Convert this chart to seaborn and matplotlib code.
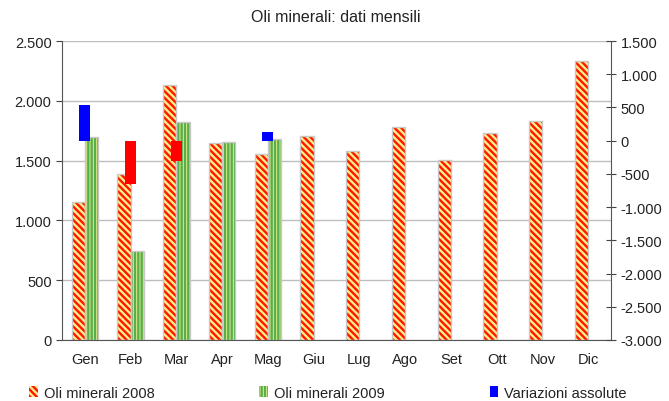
import seaborn as sns
import matplotlib.pyplot as plt
import matplotlib.ticker as mticker
from matplotlib.patches import Patch, Rectangle
import pandas as pd
import numpy as np

mesi = ['Gen', 'Feb', 'Mar', 'Apr', 'Mag', 'Giu', 'Lug', 'Ago', 'Set', 'Ott', 'Nov', 'Dic']
oli_2008 = [1155, 1390, 2130, 1650, 1555, 1705, 1580, 1780, 1505, 1730, 1835, 2335]
oli_2009 = [1695, 745, 1820, 1655, 1680]
variazioni = [540, -645, -310, 0, 125]

serie = ['Oli minerali 2008', 'Oli minerali 2009']

def fmt_it(v, pos=None):
    return f'{int(v):,}'.replace(',', '.')

sns.set_style('white')
plt.rcParams['font.family'] = ['Liberation Sans', 'DejaVu Sans']
plt.rcParams['hatch.linewidth'] = 1.7

# long table for the two series
df = pd.DataFrame({
    'mese': mesi * 2,
    'valore': oli_2008 + oli_2009 + [np.nan] * (12 - len(oli_2009)),
    'serie': [serie[0]] * 12 + [serie[1]] * 12,
})
var = pd.DataFrame({
    'mese': mesi,
    'var': variazioni + [np.nan] * (12 - len(variazioni)),
})
var['segno'] = np.where(var['var'] >= 0, 'pos', 'neg')

fig = plt.figure(figsize=(6.69, 4.02), dpi=100)
ax = fig.add_axes([62 / 669, 61 / 402, 549 / 669, 299 / 402])

sns.barplot(data=df, x='mese', y='valore', hue='serie', hue_order=serie, order=mesi,
            width=0.58, gap=0, palette=['#FFEE88', '#E4EE8C'], saturation=1, legend=False,
            ax=ax, linewidth=0)

stripe = {serie[0]: ('#FF1500', '\\' * 5), serie[1]: ('#58AD4C', '|' * 5)}
for cont, name in zip(ax.containers, serie):
    col, h = stripe[name]
    for p in cont.patches:
        if np.isnan(p.get_height()) or p.get_height() == 0:
            continue
        p.set_hatch(h)
        p.set_edgecolor(col)
        p.set_linewidth(0)
        ax.add_patch(Rectangle(p.get_xy(), p.get_width(), p.get_height(), fill=False,
                               edgecolor='#C8C8C8', lw=1.0, zorder=p.get_zorder() + 0.1))

ax.set_ylim(0, 2500)
ax.set_yticks(np.arange(0, 2501, 500))
ax.yaxis.set_major_formatter(mticker.FuncFormatter(fmt_it))
ax.yaxis.grid(True, color='#BEBEBE', lw=1)
ax.set_axisbelow(True)
ax.set_xlim(-0.5, 11.5)
ax.set_xlabel('')
ax.set_ylabel('')
ax.set_xticks(np.arange(-0.5, 12, 1), minor=True)
ax.tick_params(axis='x', which='major', length=0, labelsize=10.5, pad=9, colors='#222222')
ax.tick_params(axis='x', which='minor', length=4, direction='out', color='#444444')
ax.tick_params(axis='y', length=4, direction='out', left=True, labelsize=10.5, color='#444444', labelcolor='#222222')
for s in ['top', 'right']:
    ax.spines[s].set_visible(False)
for s in ['left', 'bottom']:
    ax.spines[s].set_color('#555555')

ax2 = ax.twinx()
sns.barplot(data=var, x='mese', y='var', hue='segno', hue_order=['pos', 'neg'], order=mesi,
            palette={'pos': '#0000FF', 'neg': '#FF0000'}, saturation=1, dodge=False, width=0.24,
            legend=False, ax=ax2, linewidth=0)
ax2.set_xlim(-0.5, 11.5)
ax2.set_ylim(-3000, 1500)
ax2.set_yticks(np.arange(-3000, 1501, 500))
ax2.yaxis.set_major_formatter(mticker.FuncFormatter(fmt_it))
ax2.set_ylabel('')
ax2.tick_params(axis='y', length=7, direction='inout', right=True, labelsize=10.5,
                color='#444444', labelcolor='#222222')
for s in ['top', 'left', 'bottom']:
    ax2.spines[s].set_visible(False)
ax2.spines['right'].set_color('#555555')

fig.text(336 / 669, 1 - 18 / 402, 'Oli minerali: dati mensili', ha='center', va='center',
         fontsize=11.5, color='#222222')

handles = [
    Patch(facecolor='#FFEE88', edgecolor='#FF1500', hatch='\\' * 5, lw=0),
    Patch(facecolor='#E4EE8C', edgecolor='#58AD4C', hatch='|' * 5, lw=0),
    Patch(facecolor='#0000FF', lw=0),
]
fig.legend(handles, ['Oli minerali 2008', 'Oli minerali 2009', 'Variazioni assolute'],
           loc='lower center', bbox_to_anchor=(0.49, -0.03), ncol=3, frameon=False,
           fontsize=10.5, handlelength=0.6, handleheight=0.8, handletextpad=0.4,
           columnspacing=7.2, labelcolor='#222222')

fig.savefig('out.png', dpi=100)
